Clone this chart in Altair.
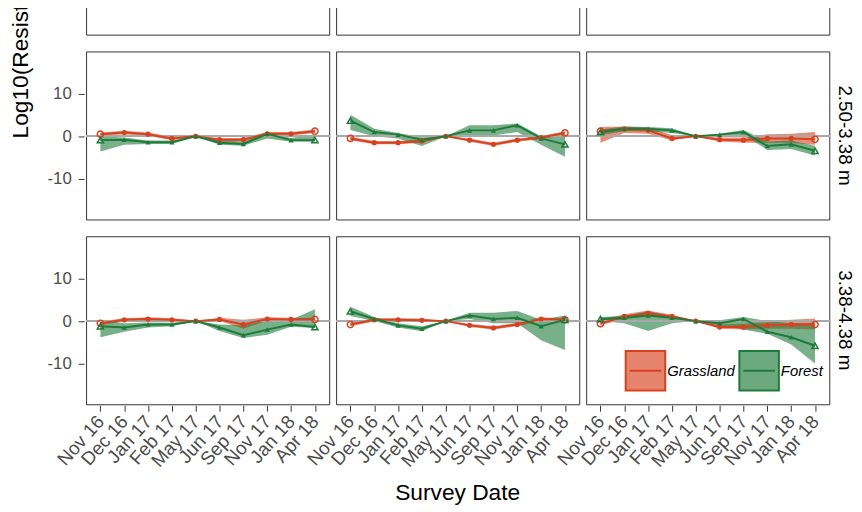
import altair as alt
import pandas as pd

dates = ["Nov 16", "Dec 16", "Jan 17", "Feb 17", "May 17", "Jun 17",
         "Sep 17", "Nov 17", "Jan 18", "Apr 18"]
depths = ["1.75-2.50 m", "2.50-3.38 m", "3.38-4.38 m"]
columns = ["Transect A", "Transect B", "Transect C"]
sites = ["Grassland", "Forest"]
site_colors = ["#d9411e", "#1e7b3a"]
site_shapes = ["circle", "triangle-up"]

# ---- 2.50-3.38 m ----
g_val_2_1 = [0.5, 0.9, 0.5, -0.5, 0, -0.8, -0.8, 0.6, 0.6, 1.2]
g_lo_2_1 = [0.1, 0.5, 0.1, -0.9, 0, -1.2, -1.2, 0.2, 0.2, 0.8]
g_hi_2_1 = [0.9, 1.3, 0.9, -0.1, 0, -0.4, -0.4, 1.0, 1.0, 1.6]
f_val_2_1 = [-0.9, -0.8, -1.4, -1.4, 0, -1.5, -1.8, 0.6, -0.9, -0.9]
f_lo_2_1 = [-3.6, -2.0, -1.8, -1.8, 0, -2.0, -2.2, -0.5, -1.3, -1.3]
f_hi_2_1 = [0.0, -0.3, -1.0, -1.0, 0, -0.8, -1.3, 1.0, -0.4, 0.5]

g_val_2_2 = [-0.5, -1.5, -1.5, -1.1, 0, -0.9, -1.9, -0.9, -0.3, 0.8]
g_lo_2_2 = [-0.9, -1.9, -1.9, -1.5, 0, -1.3, -2.3, -1.3, -0.7, 0.4]
g_hi_2_2 = [-0.1, -1.1, -1.1, -0.7, 0, -0.5, -1.5, -0.5, 0.1, 1.2]
f_val_2_2 = [3.7, 1.0, 0.4, -0.8, 0, 1.4, 1.4, 2.6, -0.5, -1.9]
f_lo_2_2 = [1.5, 0.0, -0.5, -2.3, 0, 0.2, 0.2, 1.0, -2.0, -4.8]
f_hi_2_2 = [5.1, 1.8, 0.8, -0.2, 0, 2.6, 2.6, 3.0, 0.0, 0.5]

g_val_2_3 = [1.2, 1.7, 1.4, -0.5, 0, -0.8, -0.9, -0.5, -0.5, -0.7]
g_lo_2_3 = [-1.5, 0.8, 0.6, -1.0, 0, -1.2, -1.5, -1.5, -1.6, -2.0]
g_hi_2_3 = [2.2, 2.3, 2.0, 0.3, 0, -0.3, -0.3, 0.5, 0.6, 1.0]
f_val_2_3 = [1.0, 1.8, 1.8, 1.4, 0, 0.4, 1.0, -2.3, -1.9, -3.4]
f_lo_2_3 = [0.3, 1.2, 1.2, 0.8, 0, 0.1, 0.3, -3.2, -3.0, -4.5]
f_hi_2_3 = [1.6, 2.3, 2.2, 1.9, 0, 0.6, 1.5, -1.2, -1.0, -2.2]

# ---- 3.38-4.38 m ----
g_val_3_1 = [-0.5, 0.3, 0.5, 0.3, 0, 0.4, -0.8, 0.5, 0.4, 0.4]
g_lo_3_1 = [-0.9, -0.1, 0.1, -0.1, 0, 0.0, -1.8, 0.1, 0.0, 0.0]
g_hi_3_1 = [-0.1, 0.7, 0.9, 0.7, 0, 0.8, 0.3, 0.9, 0.8, 0.8]
f_val_3_1 = [-1.2, -1.5, -0.8, -0.8, 0, -1.5, -3.3, -2.0, -0.8, -1.4]
f_lo_3_1 = [-3.8, -2.5, -1.5, -1.2, 0, -2.3, -4.0, -3.2, -1.3, -1.6]
f_hi_3_1 = [0.3, -0.5, -0.3, -0.4, 0, -0.8, -1.0, 0.3, 0.3, 2.8]

g_val_3_2 = [-0.8, 0.3, 0.3, 0.2, 0, -1.0, -1.6, -0.8, 0.5, 0.3]
g_lo_3_2 = [-1.2, -0.1, -0.1, -0.2, 0, -1.4, -2.0, -1.2, 0.1, -0.1]
g_hi_3_2 = [-0.4, 0.7, 0.7, 0.6, 0, -0.6, -1.2, -0.4, 0.9, 0.7]
f_val_3_2 = [2.3, 0.5, -1.0, -1.8, 0, 1.3, 0.5, 0.8, -1.2, 0.3]
f_lo_3_2 = [1.2, 0.0, -1.5, -2.4, 0, 0.5, -0.5, -0.5, -4.5, -6.8]
f_hi_3_2 = [3.4, 1.0, -0.5, -1.2, 0, 2.0, 2.0, 2.4, 0.3, 1.3]

g_val_3_3 = [-0.6, 1.1, 1.8, 1.1, 0, -1.4, -1.4, -1.0, -0.8, -0.8]
g_lo_3_3 = [-1.0, 0.5, 1.2, 0.7, 0, -1.8, -2.0, -1.8, -1.8, -2.0]
g_hi_3_3 = [0.3, 1.6, 2.5, 1.5, 0, -0.8, -0.6, -0.3, 0.3, 0.6]
f_val_3_3 = [0.5, 0.8, 1.3, 0.8, 0, -0.5, 0.5, -2.5, -3.8, -5.8]
f_lo_3_3 = [0.0, -0.5, -2.3, -0.5, 0, -1.0, -2.0, -3.0, -5.5, -10.0]
f_hi_3_3 = [1.0, 1.2, 2.3, 1.2, 0, 0.2, 1.0, 0.0, -0.5, -0.5]

panels = {
    (depths[1], columns[0]): [(g_val_2_1, g_lo_2_1, g_hi_2_1), (f_val_2_1, f_lo_2_1, f_hi_2_1)],
    (depths[1], columns[1]): [(g_val_2_2, g_lo_2_2, g_hi_2_2), (f_val_2_2, f_lo_2_2, f_hi_2_2)],
    (depths[1], columns[2]): [(g_val_2_3, g_lo_2_3, g_hi_2_3), (f_val_2_3, f_lo_2_3, f_hi_2_3)],
    (depths[2], columns[0]): [(g_val_3_1, g_lo_3_1, g_hi_3_1), (f_val_3_1, f_lo_3_1, f_hi_3_1)],
    (depths[2], columns[1]): [(g_val_3_2, g_lo_3_2, g_hi_3_2), (f_val_3_2, f_lo_3_2, f_hi_3_2)],
    (depths[2], columns[2]): [(g_val_3_3, g_lo_3_3, g_hi_3_3), (f_val_3_3, f_lo_3_3, f_hi_3_3)],
}

rows = []
for (depth, col), series in panels.items():
    for site, (vals, los, his) in zip(sites, series):
        for i, d in enumerate(dates):
            rows.append(dict(depth=depth, col=col, site=site, site2=site, site3=site,
                             date=d, value=vals[i], lo=los[i], hi=his[i],
                             end=(i == 0 or i == len(dates) - 1)))
# top (cropped) row: only the May 17 reference point is known
for col in columns:
    for site in sites:
        rows.append(dict(depth=depths[0], col=col, site=site, site2=site, site3=site,
                         date="May 17", value=0, lo=0, hi=0, end=False))
df = pd.DataFrame(rows)

FONT = "Liberation Sans"
xenc = alt.X("date:N", sort=dates,
             scale=alt.Scale(type="point", padding=0.6),
             axis=alt.Axis(title=None, labelAngle=-48, labelOverlap=False, labelFontSize=19))
yscale = alt.Scale(domain=[-19.6, 20], nice=False, zero=False)
yax = alt.Axis(title=None, values=[-10, 0, 10], labelExpr="toString(datum.value)")

box_path = "M-1,-1H1V1H-1Z M-0.8,0H0.8"
LX, LY = 545, 489
common = dict(title=None, orient="none", direction="horizontal", legendX=LX, legendY=LY,
              labelFontStyle="italic", labelFontSize=15, labelOffset=1,
              labelColor="black",
              symbolType=box_path, symbolSize=1600, symbolStrokeWidth=2)
# two legends drawn at the same spot: translucent filled box, then outline + line
legend_fill = alt.Legend(symbolOpacity=0.65, columnPadding=3, **common)
legend_stroke = alt.Legend(labelOpacity=0, columnPadding=0, **common)

area = alt.Chart().mark_area(fillOpacity=0.6).encode(
    x=xenc,
    y=alt.Y("lo:Q", scale=yscale, axis=yax),
    y2="hi:Q",
    fill=alt.Fill("site:N", scale=alt.Scale(domain=sites, range=site_colors),
                  legend=legend_fill),
)
rule = alt.Chart().mark_rule(color="#a9a9a9", strokeWidth=1.6).encode(y=alt.datum(0))
line = alt.Chart().mark_line(strokeWidth=2).encode(
    x=xenc, y=alt.Y("value:Q", scale=yscale),
    stroke=alt.Stroke("site3:N", sort=sites, scale=alt.Scale(range=site_colors),
                      legend=legend_stroke),
)
shape = alt.Shape("site2:N", sort=sites, scale=alt.Scale(range=site_shapes), legend=None)
pcolor = alt.Color("site2:N", sort=sites, scale=alt.Scale(range=site_colors), legend=None)
pts = alt.Chart().mark_point(filled=True, size=28, opacity=1).encode(
    x=xenc, y=alt.Y("value:Q", scale=yscale), shape=shape, color=pcolor
).transform_filter("!datum.end")
pts_open = alt.Chart().mark_point(filled=False, size=40, strokeWidth=1.5, opacity=1).encode(
    x=xenc, y=alt.Y("value:Q", scale=yscale), shape=shape, color=pcolor
).transform_filter("datum.end")

layered = alt.layer(area, rule, line, pts, pts_open).properties(width=246, height=170)

chart = layered.facet(
    data=df,
    row=alt.Row("depth:N", sort=depths,
                header=alt.Header(title=None, labelOrient="right", labelAngle=90,
                                  labelFontSize=19, labelPadding=4, labelFont=FONT,
                                  labelColor="black")),
    column=alt.Column("col:N", sort=columns, title="Survey Date",
                      header=alt.Header(labels=False, titleOrient="bottom",
                                        titleFontSize=23, titleFont=FONT,
                                        titleFontWeight="normal", titleColor="black",
                                        titlePadding=2)),
    spacing={"row": 15, "column": 3},
).properties(
    title=alt.TitleParams("Log10(Resistivity Ratio)", orient="left", anchor="start",
                          frame="group", dx=-275, offset=14, fontSize=23, font=FONT,
                          fontWeight="normal", color="black"),
    padding={"top": -147, "left": 2, "right": 0, "bottom": 2},
    background="white",
).configure_view(
    stroke="#333333", strokeWidth=1
).configure_axis(
    domain=False, grid=False, tickColor="#333333", tickSize=6, tickWidth=1,
    labelColor="#4d4d4d", labelFontSize=17, labelFont=FONT, labelPadding=7,
).configure_legend(labelFont=FONT)

chart.save("out.html", embed_options={"renderer": "svg", "actions": False})
